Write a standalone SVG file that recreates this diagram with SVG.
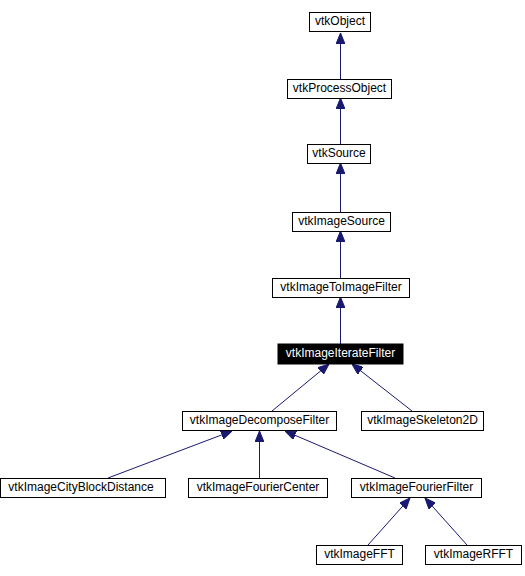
<svg xmlns="http://www.w3.org/2000/svg" width="525" height="576" viewBox="0 0 525 576">
<style>
.n rect{fill:#fff;stroke:#000;stroke-width:1}
.n text{font-family:"Liberation Sans",Arial,sans-serif;font-size:12px;text-anchor:middle;fill:#000}
.h rect{fill:#000}
.h text{fill:#fff}
.e path{stroke:#191970;stroke-width:1;fill:none;marker-end:url(#a)}
</style>
<defs>
<marker id="a" viewBox="0 0 11 9" markerUnits="userSpaceOnUse" markerWidth="11" markerHeight="9" refX="11" refY="4.5" orient="auto">
<path d="M0,0 L11,4.5 L0,9 z" fill="#191970" stroke="#191970" stroke-width="1"/>
</marker>
</defs>
<rect width="525" height="576" fill="#fff"/>
<g class="e" id="edges">
<path d="M340.5,79 L340.5,33"/>
<path d="M340.5,144 L340.5,98"/>
<path d="M340.5,212 L340.5,163"/>
<path d="M340.5,278 L340.5,231"/>
<path d="M340.5,344 L340.5,297"/>
<path d="M272,411 L329,364"/>
<path d="M412,411 L352,364"/>
<path d="M108,478 L232,431"/>
<path d="M259.5,478 L259.5,431"/>
<path d="M395,478 L285,431"/>
<path d="M368,545 L410,498"/>
<path d="M467,545 L425,498"/>
</g>
<g class="n" id="vtkObject"><rect x="309.5" y="12.5" width="61" height="19"/><text x="340" y="25">vtkObject</text></g>
<g class="n" id="vtkProcessObject"><rect x="287.5" y="79.5" width="104" height="19"/><text x="339.5" y="92">vtkProcessObject</text></g>
<g class="n" id="vtkSource"><rect x="307.5" y="144.5" width="63" height="19"/><text x="339" y="157">vtkSource</text></g>
<g class="n" id="vtkImageSource"><rect x="292.5" y="212.5" width="98" height="19"/><text x="341.5" y="225">vtkImageSource</text></g>
<g class="n" id="vtkImageToImageFilter"><rect x="272.5" y="278.5" width="137" height="19"/><text x="341" y="291">vtkImageToImageFilter</text></g>
<g class="n h" id="vtkImageIterateFilter"><rect x="278" y="344" width="125" height="20"/><text x="340.5" y="357">vtkImageIterateFilter</text></g>
<g class="n" id="vtkImageDecomposeFilter"><rect x="182.5" y="411.5" width="154" height="19"/><text x="259.5" y="424">vtkImageDecomposeFilter</text></g>
<g class="n" id="vtkImageSkeleton2D"><rect x="361.5" y="411.5" width="122" height="19"/><text x="422.5" y="424">vtkImageSkeleton2D</text></g>
<g class="n" id="vtkImageCityBlockDistance"><rect x="0.5" y="478.5" width="165" height="19"/><text x="81" y="491">vtkImageCityBlockDistance</text></g>
<g class="n" id="vtkImageFourierCenter"><rect x="188.5" y="478.5" width="139" height="19"/><text x="258" y="491">vtkImageFourierCenter</text></g>
<g class="n" id="vtkImageFourierFilter"><rect x="351.5" y="478.5" width="130" height="19"/><text x="416.5" y="491">vtkImageFourierFilter</text></g>
<g class="n" id="vtkImageFFT"><rect x="316.5" y="545.5" width="86" height="19"/><text x="359.5" y="558">vtkImageFFT</text></g>
<g class="n" id="vtkImageRFFT"><rect x="425.5" y="545.5" width="96" height="19"/><text x="473.5" y="558">vtkImageRFFT</text></g>
</svg>
